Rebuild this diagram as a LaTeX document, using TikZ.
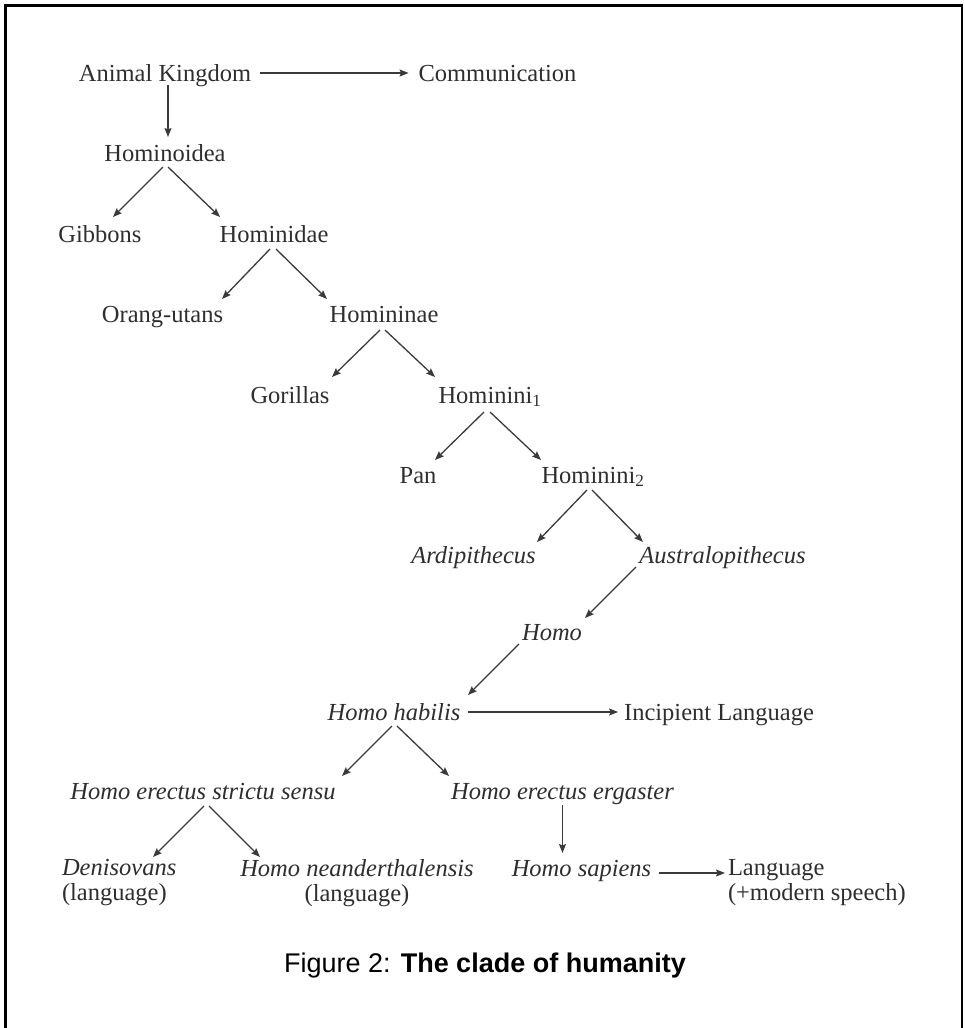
\documentclass[tikz,border=0pt]{standalone}
\usepackage{fontspec}
\setmainfont{Liberation Serif}
\setsansfont{Liberation Sans}
\usetikzlibrary{arrows.meta}
\definecolor{txt}{HTML}{2E2E2E}
\definecolor{arrc}{HTML}{3A3A3A}
\begin{document}
\begin{tikzpicture}[x=1pt,y=-1pt,
  lab/.style={font=\fontsize{24.5}{25}\selectfont, text=txt, inner sep=0pt, outer sep=0pt, text height=17pt, text depth=5pt, anchor=base},
  twoline/.style={font=\fontsize{24.5}{25}\selectfont, text=txt, inner sep=0pt, outer sep=0pt},
  arr/.style={draw=arrc, line width=1.3pt, -{Stealth[length=9pt,width=7pt,inset=1.5pt]}},
  frame/.style={draw=black, line width=3pt}
]
\useasboundingbox (0,0) rectangle (964,1028);
% frame
\draw[frame] (5.5,1030) -- (5.5,5.5) -- (962,5.5);
\draw[draw=black, line width=1.5pt] (962,4) -- (962,1030);

% nodes
\node[lab] (ak)   at (165,81)   {Animal Kingdom};
\node[lab] (comm) at (497.5,81) {Communication};
\node[lab] (hoi)  at (165,161)  {Hominoidea};
\node[lab] (gib)  at (100,242)  {Gibbons};
\node[lab] (hid)  at (274,242)  {Hominidae};
\node[lab] (ora)  at (162.5,322){Orang-utans};
\node[lab] (hnae) at (384,322)  {Homininae};
\node[lab] (gor)  at (290,403)  {Gorillas};
\node[lab] (hone) at (490,403)  {Hominini\textsubscript{1}};
\node[lab] (pan)  at (418,483)  {Pan};
\node[lab] (htwo) at (593,483)  {Hominini\textsubscript{2}};
\node[lab] (ardi) at (473.5,563){\textit{Ardipithecus}};
\node[lab] (aus)  at (722.5,563){\textit{Australopithecus}};
\node[lab] (homo) at (552,640)  {\textit{Homo}};
\node[lab] (hh)   at (394,720)  {\textit{Homo habilis}};
\node[lab] (inc)  at (719,720)  {Incipient Language};
\node[lab] (hess) at (203,799)  {\textit{Homo erectus strictu sensu}};
\node[lab] (hee)  at (562.5,799){\textit{Homo erectus ergaster}};
\node[twoline, anchor=north west, align=left]   (den)  at (62,859)  {\textit{Denisovans}\\(language)};
\node[twoline, anchor=north, align=center]      (nean) at (357,859) {\textit{Homo neanderthalensis}\\(language)};
\node[lab] (hs)   at (581.5,876){\textit{Homo sapiens}};
\node[twoline, anchor=north west, align=left]   (lang) at (728,859) {Language\\(+modern speech)};

\node[font=\sffamily\fontsize{27}{30}\selectfont, anchor=base, inner sep=0pt, text=black] (cap) at (485,972)
  {Figure 2: \textbf{The clade of humanity}};

% connectors
\draw[arr] ([shift={(95,-8)}]ak.base) -- ([shift={(-10,-8)}]comm.base west);
\draw[arr] ([shift={(3,-1)}]ak.south) -- ([shift={(3,-7)}]hoi.north);
\draw[arr] ([shift={(-2,1)}]hoi.south) -- ([shift={(13,-8)}]gib.north);
\draw[arr] ([shift={(3,1)}]hoi.south) -- ([shift={(-54,-8)}]hid.north);
\draw[arr] ([shift={(-4,2)}]hid.south) -- ([shift={(59.5,-6)}]ora.north);
\draw[arr] ([shift={(2,2)}]hid.south) -- ([shift={(-57,-6)}]hnae.north);
\draw[arr] ([shift={(-4,3)}]hnae.south) -- ([shift={(42,-9)}]gor.north);
\draw[arr] ([shift={(1,3)}]hnae.south) -- ([shift={(-55,-9)}]hone.north);
\draw[arr] ([shift={(-6,4)}]hone.south) -- ([shift={(17,-6)}]pan.north);
\draw[arr] ([shift={(0,4)}]hone.south) -- ([shift={(-52,-6)}]htwo.north);
\draw[arr] ([shift={(-6,2)}]htwo.south) -- ([shift={(63.5,-4)}]ardi.north);
\draw[arr] ([shift={(-1,2)}]htwo.south) -- ([shift={(-79.5,-4)}]aus.north);
\draw[arr] ([shift={(-86.5,-1)}]aus.south) -- ([shift={(33,-5)}]homo.north);
\draw[arr] ([shift={(-33,-1)}]homo.south) -- ([shift={(74,-8)}]hh.north);
\draw[arr] ([shift={(74,-8)}]hh.base) -- ([shift={(-6,-8)}]inc.base west);
\draw[arr] ([shift={(-2,1)}]hh.south) -- ([shift={(139,-6)}]hess.north);
\draw[arr] ([shift={(3,1)}]hh.south) -- ([shift={(-113.5,-6)}]hee.north);
\draw[arr] ([shift={(1,2)}]hess.south) -- ([shift={(91,-2)}]den.north west);
\draw[arr] ([shift={(6,2)}]hess.south) -- ([shift={(-97,-2)}]nean.north);
\draw[arr] ([shift={(0,1)}]hee.south) -- ([yshift=6pt]hs.north -| hee.south);
\draw[arr] ([shift={(8,3)}]hs.east) -- ([shift={(-3,14)}]lang.north west);
\end{tikzpicture}
\end{document}
